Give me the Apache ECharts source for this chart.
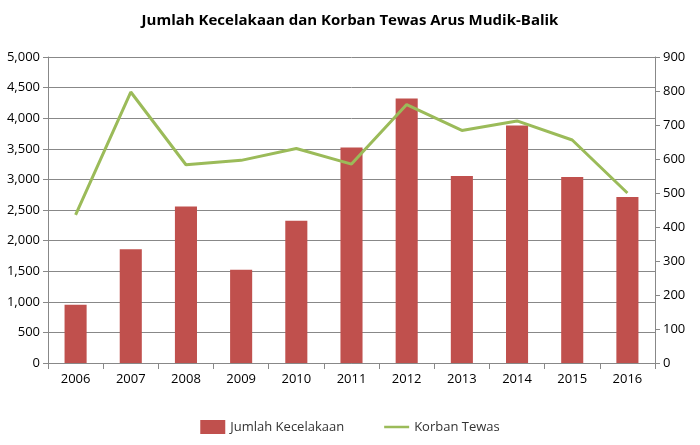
<!DOCTYPE html>
<html><head><meta charset="utf-8">
<script src="https://cdn.jsdelivr.net/npm/echarts@6/dist/echarts.min.js"></script>
<style>html,body{margin:0;padding:0;background:#fff}#c{width:700px;height:445px}</style>
</head><body><div id="c"></div>
<script>
var years = ['2006','2007','2008','2009','2010','2011','2012','2013','2014','2015','2016'];
var kecelakaan = [950,1857,2557,1525,2324,3523,4322,3057,3882,3040,2714];
var korban = [436,797,583,596,631,585,760,684,712,656,500];
var F = 'Open Sans';
var chart = echarts.init(document.getElementById('c'));
chart.setOption({
  animation:false,
  textStyle:{fontFamily:F},
  title:{text:'Jumlah Kecelakaan dan Korban Tewas Arus Mudik-Balik',left:'center',top:8,textStyle:{fontFamily:F,fontSize:15,fontWeight:'bold',color:'#000'}},
  legend:{bottom:6,left:'center',itemGap:40,textStyle:{fontFamily:F,fontSize:13,color:'#333'},
    data:[{name:'Jumlah Kecelakaan',icon:'rect',itemWidth:30,itemHeight:10},{name:'Korban Tewas',icon:'path://M0,0H30V3H0Z',itemWidth:30,itemHeight:3}]},
  grid:{left:48,right:45,top:57,bottom:82},
  xAxis:{type:'category',data:years,axisLine:{lineStyle:{color:'#888'}},axisTick:{show:true,length:6,lineStyle:{color:'#888'}},
    axisLabel:{fontFamily:F,fontSize:13,color:'#000',margin:10}},
  yAxis:[{type:'value',min:0,max:5000,interval:500,axisLine:{show:true,lineStyle:{color:'#888'}},axisTick:{show:true,lineStyle:{color:'#888'}},
    splitLine:{lineStyle:{color:'#888'}},axisLabel:{fontFamily:F,fontSize:13,color:'#000',formatter:function(v){return v.toLocaleString('en-US');}}},
   {type:'value',min:0,max:900,interval:100,axisLine:{show:true,lineStyle:{color:'#888'}},axisTick:{show:true,lineStyle:{color:'#888'}},
    splitLine:{show:false},axisLabel:{fontFamily:F,fontSize:13,color:'#000'}}],
  series:[{name:'Jumlah Kecelakaan',type:'bar',data:kecelakaan,barWidth:'40%',itemStyle:{color:'#c0504d'}},
   {name:'Korban Tewas',type:'line',yAxisIndex:1,data:korban,symbol:'none',lineStyle:{color:'#9bbb59',width:3},itemStyle:{color:'#9bbb59'}}]
});
</script></body></html>
